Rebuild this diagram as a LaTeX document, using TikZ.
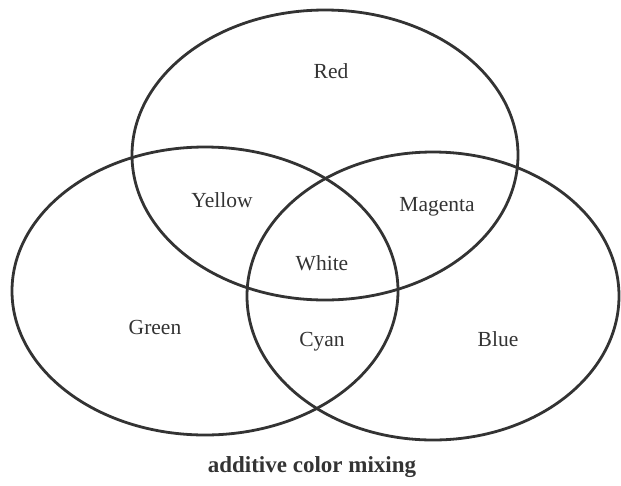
\documentclass[tikz,border=0pt]{standalone}
\usepackage{fontspec}
\setmainfont{Liberation Serif}
\definecolor{ink}{HTML}{333333}
\tikzset{
    ring/.style = {
        draw = ink,
        line width = 2.8pt,
        },
    colour name/.style = {
        text = ink,
        font = \fontsize{21.5}{25}\selectfont,
        },
    caption/.style = {
        text = ink,
        font = \fontsize{23}{27}\selectfont\bfseries,
        }
}
\begin{document}
\begin{tikzpicture}[x=1pt, y=-1pt]
            \useasboundingbox (0,0) rectangle (621,485);

            \draw[ring] (325,155) ellipse [x radius=193pt, y radius=145pt];
            \draw[ring] (205,291) ellipse [x radius=193pt, y radius=144pt];
            \draw[ring] (433,296) ellipse [x radius=186pt, y radius=144pt];

            \node[colour name] (red) at (331,71) {Red};
            \node[colour name] (yellow) at (222,200) {Yellow};
            \node[colour name] (magenta) at (437,207) {Magenta};
            \node[colour name] (white) at (322,263) {White};
            \node[colour name] (green) at (155,327) {Green};
            \node[colour name] (cyan) at (322,342) {Cyan};
            \node[colour name] (blue) at (498,339) {Blue};

            \node[caption] (title) at (312,467) {additive color mixing};
        \end{tikzpicture}
\end{document}
